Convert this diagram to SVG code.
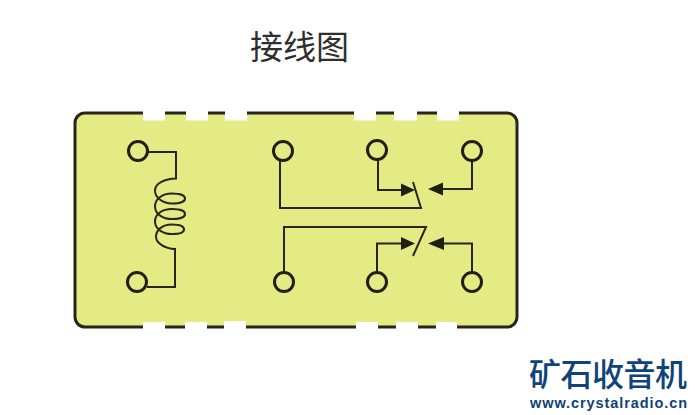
<svg xmlns="http://www.w3.org/2000/svg" width="695" height="415" viewBox="0 0 695 415">
<style>
.w{fill:none;stroke:#26261a;stroke-width:2;stroke-linejoin:miter}
.t{fill:#e4ea84;stroke:#1f1f14;stroke-width:3}
.g{fill:#fff}
.a{fill:#1f1f14}
.l{fill:#0f4379;font-family:"Noto Sans CJK SC",sans-serif;font-weight:500}
</style>
<rect width="695" height="415" fill="#fff"/>
<text x="299.500" y="59" text-anchor="middle" font-size="33" fill="#2e2e2e" font-family="'Noto Sans CJK SC',sans-serif">接线图</text>
<g id="relay-body">
<rect x="75" y="113" width="442" height="214" rx="10" fill="#e4ea84" stroke="#26261a" stroke-width="3"/>
<rect class="g" x="143" y="110" width="22" height="10.500"/>
<rect class="g" x="186" y="110" width="22" height="10.500"/>
<rect class="g" x="225" y="110" width="22" height="10.500"/>
<rect class="g" x="354" y="110" width="22" height="10.500"/>
<rect class="g" x="394" y="110" width="23" height="10.500"/>
<rect class="g" x="437" y="110" width="22" height="10.500"/>
<rect class="g" x="143" y="322" width="22" height="8"/>
<rect class="g" x="185" y="322" width="22" height="8"/>
<rect class="g" x="224" y="321" width="22" height="9"/>
<rect class="g" x="356" y="322" width="22" height="8"/>
<rect class="g" x="396" y="322" width="22" height="8"/>
<rect class="g" x="436" y="322" width="21" height="8"/>
</g>
<g id="connectors">
<path class="w" d="M147 152H176V178.500C165 179 155 183 155 190.500C155 198 163 203.500 172 203.500C180 203.500 185 201.500 185 198.500C185 195.500 180 193.500 172 193.500C162 193.500 155 199 155 206.500C155 214 163 219 172 219C180 219 185 217 185 214C185 211 180 209 172 209C162 209 155 214 155 221.500C155 229 163 234 172 234C180 234 184 232 184 229.500C184 226.500 180 224.500 172 224.500C162 224.500 156 230 156 237C156 243 165 248.500 175 249V287H147"/>
<path class="w" d="M280 160V208H421L413 182"/>
<path class="w" d="M378 160V190H404"/>
<path class="w" d="M472 160V189H441"/>
<path class="w" d="M284 272V227H426L413 256"/>
<path class="w" d="M377 272V243.500H404"/>
<path class="w" d="M472 272V243.500H443"/>
<polygon class="a" points="401,183.500 415,190 401,196.500"/>
<polygon class="a" points="443,182.500 428,189 443,195.500"/>
<polygon class="a" points="401,237 415,243.500 401,250"/>
<polygon class="a" points="444,237 428,243.500 444,250"/>
</g>
<g id="pin-coil-top"><circle class="t" cx="138" cy="151" r="9.500"/></g>
<g id="pin-coil-bottom"><circle class="t" cx="137" cy="282" r="9.500"/></g>
<g id="pin-top-1"><circle class="t" cx="283" cy="151" r="9.500"/></g>
<g id="pin-top-2"><circle class="t" cx="377" cy="150" r="9.500"/></g>
<g id="pin-top-3"><circle class="t" cx="472" cy="151" r="9.500"/></g>
<g id="pin-bottom-1"><circle class="t" cx="284" cy="282" r="9.500"/></g>
<g id="pin-bottom-2"><circle class="t" cx="377" cy="282" r="9.500"/></g>
<g id="pin-bottom-3"><circle class="t" cx="472" cy="282" r="9.500"/></g>
<g id="logo">
<text class="l" x="529" y="386" font-size="32" textLength="158" lengthAdjust="spacing">矿石收音机</text>
<text x="530" y="408" font-size="14.500" font-weight="700" fill="#0f4379" font-family="'Liberation Sans',sans-serif" textLength="157" lengthAdjust="spacing">www.crystalradio.cn</text>
</g>
</svg>
